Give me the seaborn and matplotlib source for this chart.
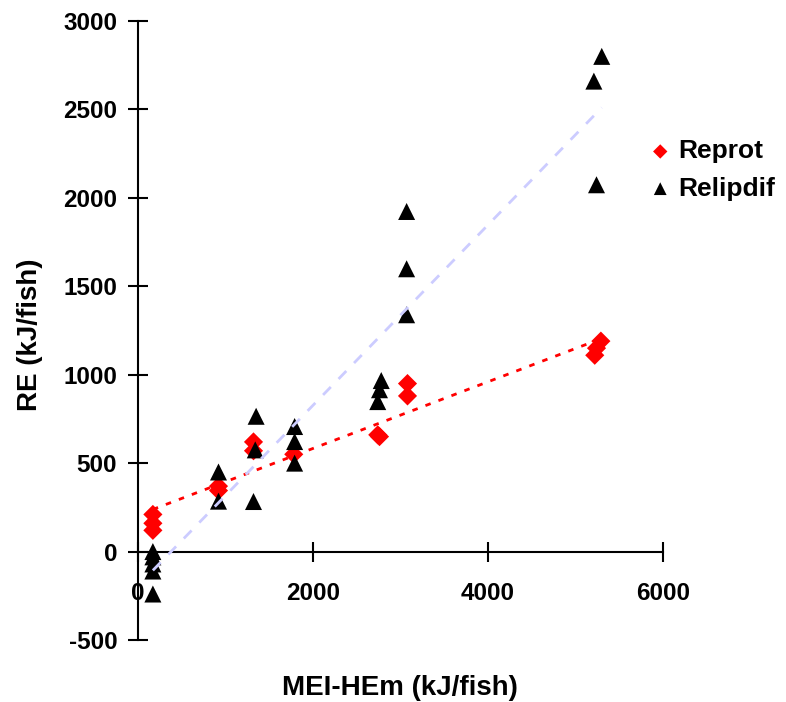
import numpy as np
import pandas as pd
import seaborn as sns
import matplotlib
matplotlib.use("Agg")
import matplotlib.pyplot as plt

# data (MEI-HEm vs RE, kJ/fish)
reprot_x = [170, 170, 170, 920, 920, 1320, 1320, 1780, 2740, 2760, 3080, 3080, 5290, 5240, 5220]
reprot_y = [210, 160, 120, 370, 345, 620, 570, 550, 660, 650, 950, 880, 1190, 1150, 1110]

relip_x = [170, 170, 170, 170, 170, 920, 920, 1350, 1340, 1320, 1790, 1790, 1790,
           2780, 2760, 2740, 3070, 3070, 3070, 5300, 5210, 5240]
relip_y = [0, -30, -70, -110, -240, 450, 285, 765, 575, 283, 707, 622, 500,
           967, 915, 848, 1923, 1599, 1339, 2800, 2660, 2074]

x_ticks = [0, 2000, 4000, 6000]
y_ticks = [-500, 0, 500, 1000, 1500, 2000, 2500, 3000]

df = pd.concat([
    pd.DataFrame({"x": reprot_x, "y": reprot_y, "series": "Reprot"}),
    pd.DataFrame({"x": relip_x, "y": relip_y, "series": "Relipdif"}),
], ignore_index=True)

sns.set_style("white")
plt.rcParams["font.family"] = ["Liberation Sans", "DejaVu Sans"]
plt.rcParams["font.weight"] = "bold"
plt.rcParams["axes.unicode_minus"] = False
plt.rcParams["text.color"] = "black"

fig = plt.figure(figsize=(7.86, 7.02), dpi=100)
ax = fig.add_axes([138 / 786, 1 - 640 / 702, 525 / 786, 619 / 702])

palette = {"Reprot": "#ff0000", "Relipdif": "#000000"}
sizes = {"Reprot": 95, "Relipdif": 150}
markers = {"Reprot": "D", "Relipdif": "^"}

# markers
for name in ["Reprot", "Relipdif"]:
    sub = df[df.series == name]
    sns.scatterplot(data=sub, x="x", y="y", marker=markers[name], s=sizes[name],
                    color=palette[name], edgecolor="none", ax=ax, zorder=3,
                    label=name, legend=False)

# linear trend lines (drawn on top like Excel)
sns.regplot(data=df[df.series == "Reprot"], x="x", y="y", scatter=False, ci=None,
            truncate=True, ax=ax,
            line_kws=dict(color="#ff0000", lw=2, ls=(0, (2, 3)), zorder=4))
sns.regplot(data=df[df.series == "Relipdif"], x="x", y="y", scatter=False, ci=None,
            truncate=True, ax=ax,
            line_kws=dict(color="#ccccff", lw=2, ls=(0, (4, 4)), zorder=4))

ax.set_xlim(0, 6000)
ax.set_ylim(-500, 3000)
ax.set_xticks(x_ticks)
ax.set_yticks(y_ticks)

for s in ["top", "right"]:
    ax.spines[s].set_visible(False)
ax.spines["bottom"].set_position(("data", 0))
ax.spines["left"].set_position(("data", 0))
for s in ["bottom", "left"]:
    ax.spines[s].set_linewidth(1.5)
    ax.spines[s].set_color("black")

ax.tick_params(axis="both", direction="inout", length=14, width=1.5,
               labelsize=17.5, colors="black", bottom=True, left=True)
ax.tick_params(axis="x", pad=15)
ax.tick_params(axis="y", pad=8)
for lab in ax.get_xticklabels() + ax.get_yticklabels():
    lab.set_fontweight("bold")

ax.set_xlabel("")
ax.set_ylabel("")
fig.text(400 / 786, 1 - 688 / 702, "MEI-HEm (kJ/fish)", ha="center", va="center",
         fontsize=20, fontweight="bold", color="black")
fig.text(30 / 786, 1 - 335 / 702, "RE (kJ/fish)", ha="center", va="center",
         rotation=90, fontsize=20, fontweight="bold", color="black")

h, l = ax.get_legend_handles_labels()
leg = fig.legend(h, l, loc="center left", bbox_to_anchor=(651 / 786, 1 - 170 / 702),
                 frameon=False, handlelength=0.7, handletextpad=0.35, labelspacing=0.5,
                 borderaxespad=0, borderpad=0, prop=dict(weight="bold", size=19),
                 markerscale=0.75)
for t in leg.get_texts():
    t.set_color("black")

fig.savefig("out.png", dpi=100)
